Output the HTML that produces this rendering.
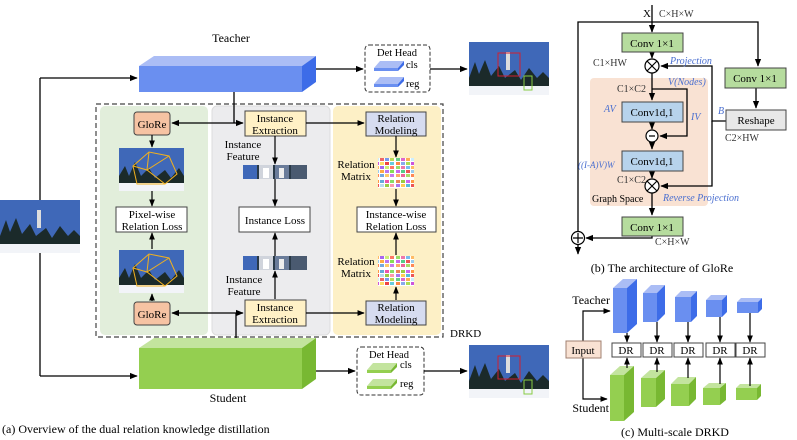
<!DOCTYPE html>
<html><head><meta charset="utf-8"><style>
html,body{margin:0;padding:0;background:#fff;}
svg{display:block;font-family:"Liberation Serif",serif;}
</style></head><body>
<svg width="797" height="440" viewBox="0 0 797 440" xmlns="http://www.w3.org/2000/svg">
<defs>
<marker id="a" viewBox="0 0 10 10" refX="9" refY="5" markerWidth="6" markerHeight="6" orient="auto"><path d="M0,1 L10,5 L0,9 z" fill="#000"/></marker>
<pattern id="rm" x="0" y="0" width="36" height="30" patternUnits="userSpaceOnUse">
<rect width="36" height="30" fill="#fff"/>
<g>
<rect x="0" y="0" width="4" height="3" fill="#e85"/><rect x="5" y="0" width="4" height="3" fill="#9c4"/><rect x="10" y="0" width="4" height="3" fill="#c6e"/><rect x="15" y="0" width="4" height="3" fill="#f94"/><rect x="20" y="0" width="4" height="3" fill="#6ad"/><rect x="25" y="0" width="4" height="3" fill="#e5a"/><rect x="30" y="0" width="4" height="3" fill="#8d6"/>
<rect x="0" y="4" width="4" height="3" fill="#a7e"/><rect x="5" y="4" width="4" height="3" fill="#fc5"/><rect x="10" y="4" width="4" height="3" fill="#5bd"/><rect x="15" y="4" width="4" height="3" fill="#e55"/><rect x="20" y="4" width="4" height="3" fill="#bde"/><rect x="25" y="4" width="4" height="3" fill="#9c4"/><rect x="30" y="4" width="4" height="3" fill="#f9a"/>
<rect x="0" y="8" width="4" height="3" fill="#6c8"/><rect x="5" y="8" width="4" height="3" fill="#d6c"/><rect x="10" y="8" width="4" height="3" fill="#fa5"/><rect x="15" y="8" width="4" height="3" fill="#cef"/><rect x="20" y="8" width="4" height="3" fill="#e66"/><rect x="25" y="8" width="4" height="3" fill="#79e"/><rect x="30" y="8" width="4" height="3" fill="#bd5"/>
<rect x="0" y="12" width="4" height="3" fill="#f84"/><rect x="5" y="12" width="4" height="3" fill="#8ae"/><rect x="10" y="12" width="4" height="3" fill="#ad5"/><rect x="15" y="12" width="4" height="3" fill="#c5d"/><rect x="20" y="12" width="4" height="3" fill="#fd6"/><rect x="25" y="12" width="4" height="3" fill="#e44"/><rect x="30" y="12" width="4" height="3" fill="#6cd"/>
<rect x="0" y="16" width="4" height="3" fill="#9d6"/><rect x="5" y="16" width="4" height="3" fill="#e7a"/><rect x="10" y="16" width="4" height="3" fill="#7be"/><rect x="15" y="16" width="4" height="3" fill="#fb6"/><rect x="20" y="16" width="4" height="3" fill="#a6e"/><rect x="25" y="16" width="4" height="3" fill="#ce7"/><rect x="30" y="16" width="4" height="3" fill="#f76"/>
<rect x="0" y="20" width="4" height="3" fill="#c6e"/><rect x="5" y="20" width="4" height="3" fill="#5c8"/><rect x="10" y="20" width="4" height="3" fill="#e55"/><rect x="15" y="20" width="4" height="3" fill="#9ce"/><rect x="20" y="20" width="4" height="3" fill="#fa4"/><rect x="25" y="20" width="4" height="3" fill="#b7e"/><rect x="30" y="20" width="4" height="3" fill="#8d5"/>
<rect x="0" y="24" width="4" height="3" fill="#fa6"/><rect x="5" y="24" width="4" height="3" fill="#e69"/><rect x="10" y="24" width="4" height="3" fill="#ad6"/><rect x="15" y="24" width="4" height="3" fill="#f85"/><rect x="20" y="24" width="4" height="3" fill="#7ad"/><rect x="25" y="24" width="4" height="3" fill="#fc6"/><rect x="30" y="24" width="4" height="3" fill="#c7e"/>
</g></pattern>
<g id="img">
<rect width="80" height="53" fill="#3f68b8"/>
<path d="M0,36 L6,20 L10,32 L16,18 L22,34 L30,24 L36,36 L46,28 L52,38 L60,26 L68,36 L74,30 L80,36 L80,46 L0,46 z" fill="#1b2a2a"/>
<rect y="44" width="80" height="9" fill="#f2f4f8"/>
<rect x="37" y="10" width="4" height="18" fill="#ddd"/>
</g>
<g id="img2">
<rect width="65" height="43" fill="#3f68b8"/>
<path d="M0,28 L6,18 L10,28 L16,14 L22,28 L30,20 L36,30 L46,22 L52,30 L60,20 L65,28 L65,36 L0,36 z" fill="#1b2a2a"/>
<rect y="35" width="65" height="8" fill="#f2f4f8"/>
<path d="M14,18 L30,4 L50,8 L58,26 L46,36 L18,36 z M14,18 L28,22 L46,36 M30,4 L28,22 L50,8" fill="none" stroke="#f0b020" stroke-width="1"/>
</g>
<g id="strip">
<rect width="64" height="14" fill="#2a3a48"/>
<rect x="0" width="14" height="14" fill="#3f68b8"/><rect x="16" width="14" height="14" fill="#d0d4dc"/><rect x="32" width="14" height="14" fill="#6a7c9a"/><rect x="48" width="16" height="14" fill="#4a5a70"/>
<rect x="20" y="3" width="6" height="10" fill="#fff"/><rect x="36" y="3" width="5" height="10" fill="#eee"/>
</g>
</defs>

<!-- panel a -->
<text x="231" y="42" font-size="12" text-anchor="middle">Teacher</text>
<polygon points="139,66 154,56 316,56 302,66" fill="#abbdf5"/>
<polygon points="302,66 316,56 316,82 302,92" fill="#3d6ce8"/>
<rect x="139" y="66" width="163" height="26" fill="#6a8ff0"/>
<polygon points="139,348 154,338 316,338 302,348" fill="#c3e49e"/>
<polygon points="302,348 316,338 316,379 302,389" fill="#78b832"/>
<rect x="139" y="348" width="163" height="41" fill="#94cf50"/>
<text x="228" y="402" font-size="12" text-anchor="middle">Student</text>

<use href="#img" x="0" y="200"/>
<line x1="40" y1="200" x2="40" y2="78" stroke="#000" stroke-width="1.3"/>
<line x1="40" y1="78" x2="137" y2="78" stroke="#000" stroke-width="1.3" marker-end="url(#a)"/>
<line x1="40" y1="253" x2="40" y2="376" stroke="#000" stroke-width="1.3"/>
<line x1="40" y1="376" x2="137" y2="376" stroke="#000" stroke-width="1.3" marker-end="url(#a)"/>

<rect x="100" y="106" width="108" height="229" rx="5" fill="#e2eedb"/>
<rect x="212" y="106" width="118" height="229" rx="5" fill="#ececee" stroke="#ddd"/>
<rect x="333" y="106" width="108" height="229" rx="5" fill="#fdf0c6"/>
<rect x="96" y="104" width="347" height="233" fill="none" stroke="#444" stroke-width="1.2" stroke-dasharray="5,3"/>
<text x="450" y="337" font-size="11">DRKD</text>

<line x1="234" y1="92" x2="234" y2="123" stroke="#000" stroke-width="1.3"/>
<line x1="234" y1="123" x2="172" y2="123" stroke="#000" stroke-width="1.3" marker-end="url(#a)"/>
<line x1="234" y1="123" x2="243" y2="123" stroke="#000" stroke-width="1.3" marker-end="url(#a)"/>
<line x1="236" y1="338" x2="236" y2="313" stroke="#000" stroke-width="1.3"/>
<line x1="236" y1="313" x2="172" y2="313" stroke="#000" stroke-width="1.3" marker-end="url(#a)"/>
<line x1="236" y1="313" x2="243" y2="313" stroke="#000" stroke-width="1.3" marker-end="url(#a)"/>

<g font-size="11" text-anchor="middle">
<rect x="134" y="112" width="36" height="23" rx="3" fill="#f6c3a3" stroke="#444"/>
<text x="152" y="128">GloRe</text>
<rect x="134" y="302" width="36" height="23" rx="3" fill="#f6c3a3" stroke="#444"/>
<text x="152" y="318">GloRe</text>
<use href="#img2" x="119" y="148"/>
<use href="#img2" x="119" y="250"/>
<rect x="116" y="207" width="71" height="25" fill="#fff" stroke="#444"/>
<text x="152" y="218">Pixel-wise</text><text x="152" y="230">Relation Loss</text>
<line x1="152" y1="135" x2="152" y2="147" stroke="#000" stroke-width="1.2" marker-end="url(#a)"/>
<line x1="152" y1="191" x2="152" y2="206" stroke="#000" stroke-width="1.2" marker-end="url(#a)"/>
<line x1="152" y1="249" x2="152" y2="233" stroke="#000" stroke-width="1.2" marker-end="url(#a)"/>
<line x1="152" y1="301" x2="152" y2="294" stroke="#000" stroke-width="1.2" marker-end="url(#a)"/>

<rect x="245" y="111" width="61" height="25" fill="#fff1c6" stroke="#444"/>
<text x="275" y="122">Instance</text><text x="275" y="134">Extraction</text>
<rect x="245" y="300" width="61" height="26" fill="#fff1c6" stroke="#444"/>
<text x="275" y="311">Instance</text><text x="275" y="323">Extraction</text>
<text x="243" y="148">Instance</text><text x="243" y="160">Feature</text>
<text x="244" y="283">Instance</text><text x="244" y="295">Feature</text>
<use href="#strip" x="243" y="165"/>
<use href="#strip" x="243" y="256"/>
<rect x="239" y="207" width="71" height="25" fill="#fff" stroke="#444"/>
<text x="275" y="224">Instance Loss</text>
<line x1="275" y1="136" x2="275" y2="164" stroke="#000" stroke-width="1.2" marker-end="url(#a)"/>
<line x1="275" y1="179" x2="275" y2="206" stroke="#000" stroke-width="1.2" marker-end="url(#a)"/>
<line x1="275" y1="256" x2="275" y2="233" stroke="#000" stroke-width="1.2" marker-end="url(#a)"/>
<line x1="275" y1="299" x2="275" y2="271" stroke="#000" stroke-width="1.2" marker-end="url(#a)"/>

<rect x="366" y="112" width="60" height="24" fill="#d6dcf0" stroke="#444"/>
<text x="396" y="122">Relation</text><text x="396" y="134">Modeling</text>
<rect x="366" y="301" width="60" height="24" fill="#d6dcf0" stroke="#444"/>
<text x="396" y="311">Relation</text><text x="396" y="323">Modeling</text>
<line x1="306" y1="123" x2="364" y2="123" stroke="#000" stroke-width="1.2" marker-end="url(#a)"/>
<line x1="306" y1="313" x2="364" y2="313" stroke="#000" stroke-width="1.2" marker-end="url(#a)"/>
<text x="356" y="168">Relation</text><text x="356" y="180">Matrix</text>
<text x="356" y="265">Relation</text><text x="356" y="277">Matrix</text>
<rect x="378" y="158" width="36" height="30" fill="url(#rm)"/>
<rect x="378" y="256" width="36" height="30" fill="url(#rm)"/>
<rect x="357" y="207" width="79" height="25" fill="#fff" stroke="#444"/>
<text x="396" y="218">Instance-wise</text><text x="396" y="230">Relation Loss</text>
<line x1="396" y1="136" x2="396" y2="157" stroke="#000" stroke-width="1.2" marker-end="url(#a)"/>
<line x1="396" y1="189" x2="396" y2="206" stroke="#000" stroke-width="1.2" marker-end="url(#a)"/>
<line x1="396" y1="255" x2="396" y2="233" stroke="#000" stroke-width="1.2" marker-end="url(#a)"/>
<line x1="396" y1="300" x2="396" y2="287" stroke="#000" stroke-width="1.2" marker-end="url(#a)"/>
</g>

<line x1="316" y1="69" x2="363" y2="69" stroke="#000" stroke-width="1.3" marker-end="url(#a)"/>
<rect x="365" y="45" width="65" height="47" rx="4" fill="#fff" stroke="#333" stroke-dasharray="4,2"/>
<text x="397" y="56" font-size="10.5" text-anchor="middle">Det Head</text>
<polygon points="374,68 380,61 404,61 398,68" fill="#abbdf5"/><rect x="374" y="68" width="24" height="3" fill="#6a8ff0"/><polygon points="398,68 404,61 404,65 398,71" fill="#3d6ce8"/>
<polygon points="374,84 380,77 404,77 398,84" fill="#abbdf5"/><rect x="374" y="84" width="24" height="3" fill="#6a8ff0"/><polygon points="398,84 404,77 404,81 398,87" fill="#3d6ce8"/>
<text x="406" y="68" font-size="10.5">cls</text><text x="406" y="87" font-size="10.5">reg</text>
<line x1="430" y1="69" x2="467" y2="69" stroke="#000" stroke-width="1.3" marker-end="url(#a)"/>
<use href="#img" x="469" y="42"/>
<rect x="498" y="53" width="22" height="23" fill="none" stroke="#d02030"/>
<rect x="524" y="76" width="8" height="14" fill="none" stroke="#8c4"/>

<line x1="316" y1="371" x2="355" y2="371" stroke="#000" stroke-width="1.3" marker-end="url(#a)"/>
<rect x="357" y="347" width="67" height="48" rx="4" fill="#fff" stroke="#333" stroke-dasharray="4,2"/>
<text x="389" y="358" font-size="10.5" text-anchor="middle">Det Head</text>
<polygon points="367,370 373,363 397,363 391,370" fill="#c3e49e"/><rect x="367" y="370" width="24" height="3" fill="#94cf50"/><polygon points="391,370 397,363 397,367 391,373" fill="#78b832"/>
<polygon points="367,386 373,379 397,379 391,386" fill="#c3e49e"/><rect x="367" y="386" width="24" height="3" fill="#94cf50"/><polygon points="391,386 397,379 397,383 391,389" fill="#78b832"/>
<text x="400" y="368" font-size="10.5">cls</text><text x="400" y="387" font-size="10.5">reg</text>
<line x1="424" y1="371" x2="467" y2="371" stroke="#000" stroke-width="1.3" marker-end="url(#a)"/>
<use href="#img" x="469" y="345"/>
<rect x="498" y="356" width="22" height="23" fill="none" stroke="#d02030"/>
<rect x="524" y="380" width="8" height="14" fill="none" stroke="#8c4"/>

<text x="2" y="433" font-size="12">(a) Overview of the dual relation knowledge distillation</text>

<!-- panel b -->
<rect x="590" y="78" width="118" height="128" rx="4" fill="#f9e2d3"/>
<g stroke="#000" stroke-width="1.3" fill="none">
<polyline points="578,232 578,22 758,22 758,66" marker-end="url(#a)"/>
<line x1="652" y1="5" x2="652" y2="32" marker-end="url(#a)"/>
<line x1="652" y1="52" x2="652" y2="58" marker-end="url(#a)"/>
<line x1="652" y1="73" x2="652" y2="100" marker-end="url(#a)"/>
<polyline points="652,89 687,89 687,136 660,136" marker-end="url(#a)"/>
<line x1="652" y1="122" x2="652" y2="129" marker-end="url(#a)"/>
<line x1="652" y1="142" x2="652" y2="149" marker-end="url(#a)"/>
<line x1="652" y1="171" x2="652" y2="178" marker-end="url(#a)"/>
<line x1="652" y1="193" x2="652" y2="215" marker-end="url(#a)"/>
<polyline points="726,121 712,121 712,66 661,66" marker-end="url(#a)"/>
<polyline points="712,121 712,186 661,186" marker-end="url(#a)"/>
<line x1="756" y1="88" x2="756" y2="108" marker-end="url(#a)"/>
<polyline points="652,236 652,238 586,238" marker-end="url(#a)"/>
<line x1="578" y1="245" x2="578" y2="254" marker-end="url(#a)"/>
</g>
<g font-size="11" text-anchor="middle">
<rect x="622" y="33" width="61" height="19" fill="#b6dc9e" stroke="#444"/><text x="652" y="47">Conv 1×1</text>
<rect x="725" y="68" width="61" height="20" fill="#b6dc9e" stroke="#444"/><text x="755" y="82">Conv 1×1</text>
<rect x="726" y="110" width="60" height="20" fill="#e8e8e8" stroke="#444"/><text x="756" y="124">Reshape</text>
<rect x="622" y="102" width="61" height="20" fill="#b7d3ec" stroke="#444"/><text x="652" y="116">Conv1d,1</text>
<rect x="622" y="151" width="61" height="20" fill="#b7d3ec" stroke="#444"/><text x="652" y="165">Conv1d,1</text>
<rect x="622" y="217" width="61" height="19" fill="#b6dc9e" stroke="#444"/><text x="652" y="231">Conv 1×1</text>
</g>
<g fill="#fff" stroke="#000" stroke-width="1.2">
<circle cx="652" cy="66" r="7"/><circle cx="652" cy="136" r="6"/><circle cx="652" cy="186" r="7"/><circle cx="578" cy="238" r="6.5"/>
</g>
<g stroke="#000" stroke-width="1.2">
<path d="M647,61 L657,71 M657,61 L647,71 M647,181 L657,191 M657,181 L647,191 M649,136 L655,136 M573,238 L583,238 M578,233 L578,243"/>
</g>
<g font-size="10" fill="#333">
<text x="643" y="17" font-size="11" fill="#000">X</text>
<text x="659" y="17">C×H×W</text>
<text x="593" y="66">C1×HW</text>
<text x="617" y="92">C1×C2</text>
<text x="617" y="183">C1×C2</text>
<text x="725" y="141">C2×HW</text>
<text x="655" y="245">C×H×W</text>
<text x="592" y="202" fill="#000">Graph Space</text>
</g>
<g font-size="10" fill="#4a6fd0" font-style="italic">
<text x="670" y="64">Projection</text>
<text x="668" y="85">V(Nodes)</text>
<text x="604" y="112">AV</text>
<text x="691" y="120">IV</text>
<text x="718" y="114">B</text>
<text x="578" y="168" font-size="9">((I-A)V)W</text>
<text x="663" y="201">Reverse Projection</text>
</g>
<text x="662" y="272" font-size="12" text-anchor="middle">(b) The architecture of GloRe</text>

<!-- panel c -->
<text x="610" y="304" font-size="12" text-anchor="end">Teacher</text>
<text x="609" y="412" font-size="12" text-anchor="end">Student</text>
<g stroke="#000" stroke-width="1.2" fill="none">
<polyline points="583,341 583,311 610,311" marker-end="url(#a)"/>
<polyline points="583,358 583,399 607,399" marker-end="url(#a)"/>
</g>
<rect x="566" y="341" width="35" height="17" fill="#f9e2d3" stroke="#a08070"/>
<text x="583" y="354" font-size="11" text-anchor="middle">Input</text>
<g>
<polygon points="613,288 623,279 637,279 627,288" fill="#abbdf5"/><polygon points="627,288 637,279 637,324 627,333" fill="#3d6ce8"/><rect x="613" y="288" width="14" height="45" fill="#6a8ff0"/>
<polygon points="643,293 651,285 665,285 657,293" fill="#abbdf5"/><polygon points="657,293 665,285 665,314 657,322" fill="#3d6ce8"/><rect x="643" y="293" width="14" height="29" fill="#6a8ff0"/>
<polygon points="675,297 681,291 697,291 691,297" fill="#abbdf5"/><polygon points="691,297 697,291 697,316 691,322" fill="#3d6ce8"/><rect x="675" y="297" width="16" height="25" fill="#6a8ff0"/>
<polygon points="706,300 711,295 727,295 722,300" fill="#abbdf5"/><polygon points="722,300 727,295 727,312 722,317" fill="#3d6ce8"/><rect x="706" y="300" width="16" height="17" fill="#6a8ff0"/>
<polygon points="737,302 741,298 762,298 758,302" fill="#abbdf5"/><polygon points="758,302 762,298 762,309 758,313" fill="#3d6ce8"/><rect x="737" y="302" width="21" height="11" fill="#6a8ff0"/>
</g>
<g>
<polygon points="610,375 620,366 634,366 624,375" fill="#c3e49e"/><polygon points="624,375 634,366 634,412 624,421" fill="#78b832"/><rect x="610" y="375" width="14" height="46" fill="#94cf50"/>
<polygon points="641,378 650,370 665,370 656,378" fill="#c3e49e"/><polygon points="656,378 665,370 665,399 656,407" fill="#78b832"/><rect x="641" y="378" width="15" height="29" fill="#94cf50"/>
<polygon points="671,384 678,377 696,377 689,384" fill="#c3e49e"/><polygon points="689,384 696,377 696,399 689,406" fill="#78b832"/><rect x="671" y="384" width="18" height="22" fill="#94cf50"/>
<polygon points="703,388 709,383 726,383 720,388" fill="#c3e49e"/><polygon points="720,388 726,383 726,400 720,405" fill="#78b832"/><rect x="703" y="388" width="17" height="17" fill="#94cf50"/>
<polygon points="736,388 740,384 761,384 757,388" fill="#c3e49e"/><polygon points="757,388 761,384 761,396 757,400" fill="#78b832"/><rect x="736" y="388" width="21" height="12" fill="#94cf50"/>
</g>
<g stroke="#000" stroke-width="1.2">
<line x1="627" y1="333" x2="627" y2="342" marker-end="url(#a)"/>
<line x1="657" y1="322" x2="657" y2="342" marker-end="url(#a)"/>
<line x1="688" y1="322" x2="688" y2="342" marker-end="url(#a)"/>
<line x1="720" y1="317" x2="720" y2="342" marker-end="url(#a)"/>
<line x1="750" y1="313" x2="750" y2="342" marker-end="url(#a)"/>
<line x1="627" y1="368" x2="627" y2="358" marker-end="url(#a)"/>
<line x1="657" y1="372" x2="657" y2="358" marker-end="url(#a)"/>
<line x1="688" y1="378" x2="688" y2="358" marker-end="url(#a)"/>
<line x1="720" y1="384" x2="720" y2="358" marker-end="url(#a)"/>
<line x1="750" y1="386" x2="750" y2="358" marker-end="url(#a)"/>
</g>
<g font-size="11" text-anchor="middle">
<rect x="612" y="343" width="29" height="14" fill="#fff" stroke="#444"/><text x="626" y="354">DR</text>
<rect x="643" y="343" width="29" height="14" fill="#fff" stroke="#444"/><text x="657" y="354">DR</text>
<rect x="674" y="343" width="29" height="14" fill="#fff" stroke="#444"/><text x="688" y="354">DR</text>
<rect x="706" y="343" width="29" height="14" fill="#fff" stroke="#444"/><text x="720" y="354">DR</text>
<rect x="736" y="343" width="29" height="14" fill="#fff" stroke="#444"/><text x="750" y="354">DR</text>
</g>
<text x="675" y="436" font-size="12" text-anchor="middle">(c) Multi-scale DRKD</text>
</svg>
</body></html>
